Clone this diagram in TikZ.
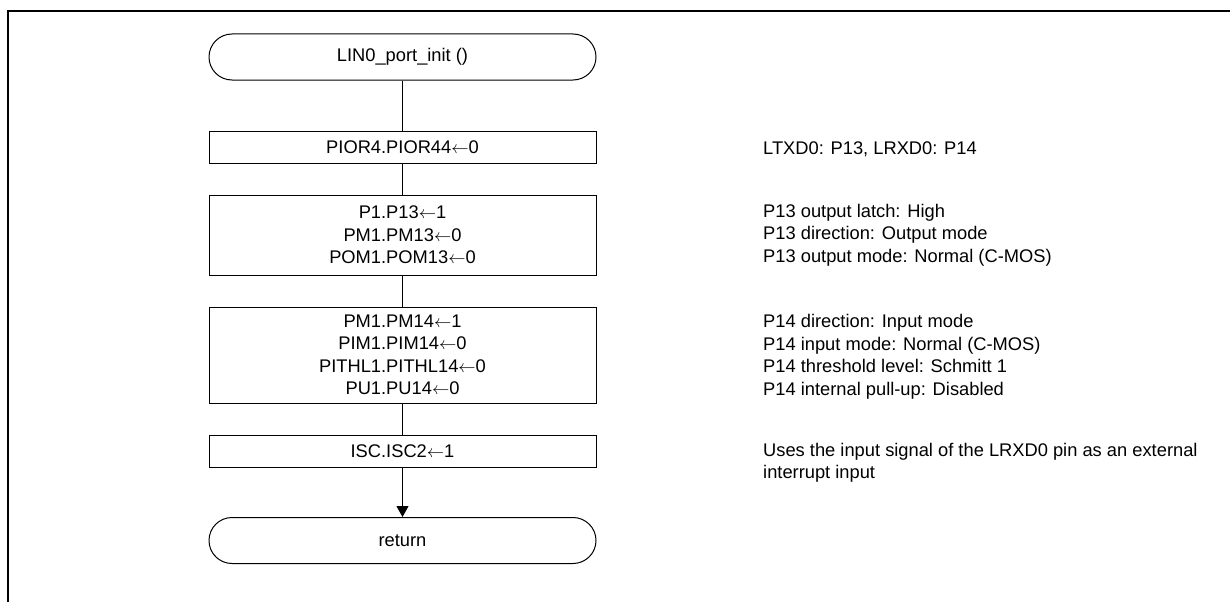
\documentclass[tikz,border=0pt]{standalone}
\usepackage{fontspec}
\setmainfont{Liberation Sans}
\usetikzlibrary{arrows.meta}
\newcommand{\larr}{\ensuremath{\leftarrow}}
\begin{document}
\begin{tikzpicture}[x=1pt,y=-1pt,
  every node/.style={font=\fontsize{18.3}{22.5}\selectfont},
  proc/.style={draw,line width=1pt,minimum width=387pt,align=center,inner sep=0pt},
  term/.style={draw,line width=1pt,minimum width=387pt,minimum height=46pt,rounded corners=23pt,inner sep=0pt},
  note/.style={anchor=west,align=left,inner sep=0pt},
  link/.style={line width=1pt},
  frame/.style={line width=2.5pt}]
\useasboundingbox (0,0) rectangle (1230,602);
\draw[frame] (8,602) -- (8,11) -- (1230,11);

\node[term] (start) at (402.5,57) {LIN0\_port\_init ()};
\node[proc,minimum height=32pt] (b1) at (402.5,147) {PIOR4.PIOR44\larr0};
\node[proc,minimum height=80pt] (b2) at (402.5,235) {P1.P13\larr1\\PM1.PM13\larr0\\POM1.POM13\larr0};
\node[proc,minimum height=96pt] (b3) at (402.5,355) {PM1.PM14\larr1\\PIM1.PIM14\larr0\\PITHL1.PITHL14\larr0\\PU1.PU14\larr0};
\node[proc,minimum height=32pt] (b4) at (402.5,451) {ISC.ISC2\larr1};
\node[term] (ret) at (402.5,540.5) {return};

\draw[link] (start) -- (b1);
\draw[link] (b1) -- (b2);
\draw[link] (b2) -- (b3);
\draw[link] (b3) -- (b4);
\draw[link,-{Triangle[width=12pt,length=11pt]}] (b4) -- (ret);

\node[note] (n1) at (763,149) {LTXD0: P13, LRXD0: P14};
\node[note] (n2) at (763,235) {P13 output latch: High\\P13 direction: Output mode\\P13 output mode: Normal (C-MOS)};
\node[note] (n3) at (763,357) {P14 direction: Input mode\\P14 input mode: Normal (C-MOS)\\P14 threshold level: Schmitt 1\\P14 internal pull-up: Disabled};
\node[note] (n4) at (763,463) {Uses the input signal of the LRXD0 pin as an external\\interrupt input};
\end{tikzpicture}
\end{document}
